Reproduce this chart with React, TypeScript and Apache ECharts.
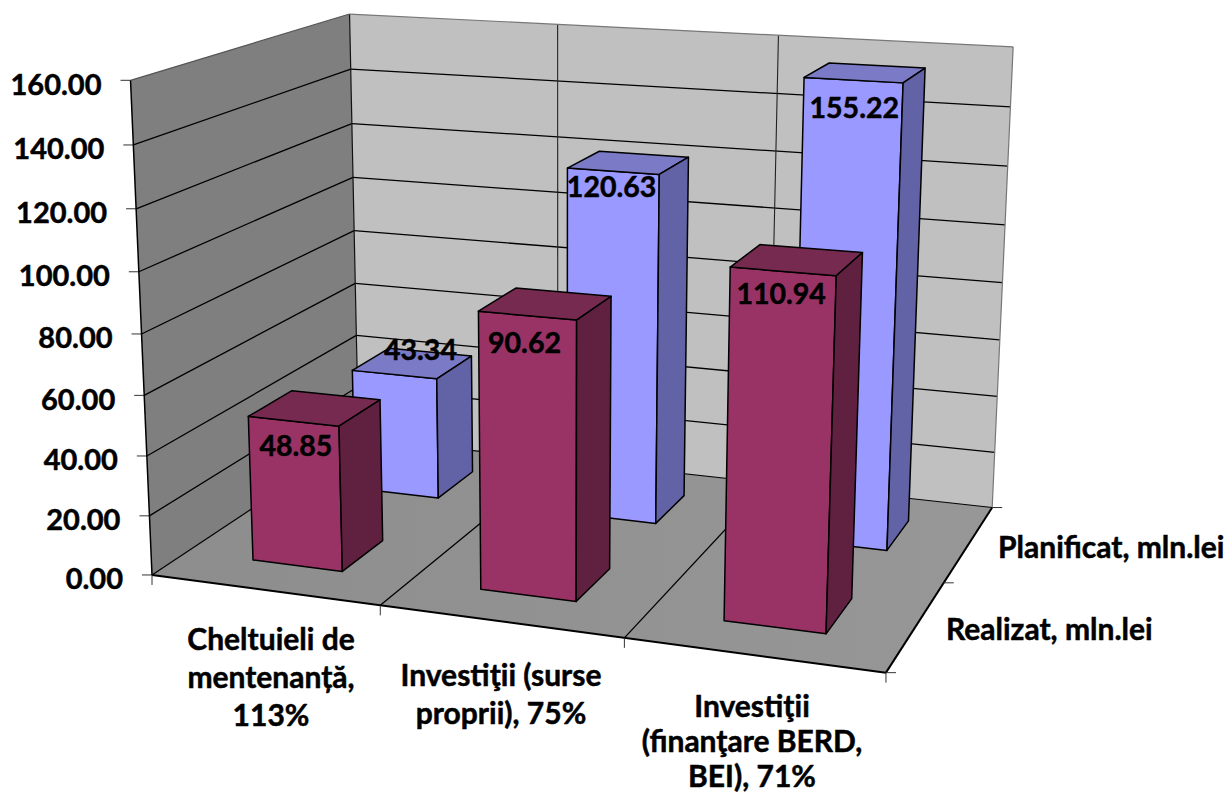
import React, { useEffect, useRef } from "react";
import * as echarts from "echarts";

const categories = ["Cheltuieli de\nmentenanță,\n113%", "Investiţii (surse\nproprii), 75%", "Investiţii\n(finanţare BERD,\nBEI), 71%"];
const depthNames = ["Realizat, mln.lei", "Planificat, mln.lei"];
const realizat = [48.85, 90.62, 110.94];
const planificat = [43.34, 120.63, 155.22];
const yTicks = [0, 20, 40, 60, 80, 100, 120, 140, 160];
const yTickLabels = ["0.00", "20.00", "40.00", "60.00", "80.00", "100.00", "120.00", "140.00", "160.00"];

const W = 1229, H = 793;
const FONT = "Lato, Carlito, 'Noto Sans', sans-serif";

// Camera calibration: model point [category, value/160, depth] -> page pixel, used to fit a projective camera
const calibration: number[][] = [
  [0, 0, 0, 152, 575], [0, 1, 0, 130, 80], [0, 0, 2, 358, 438], [0, 1, 2, 350, 14],
  [3, 1, 2, 1013, 47], [3, 0, 2, 992, 507], [3, 0, 0, 885, 673], [1, 0, 0, 381, 605],
  [2, 0, 0, 624, 638], [3, 0, 1, 945, 583], [0, 0.5, 0, 142, 334], [0, 0.5, 2, 354, 231],
];

function solve(A: number[][], b: number[]) {
  const n = b.length;
  const M = A.map((r, i) => [...r, b[i]]);
  for (let i = 0; i < n; i++) {
    let p = i;
    for (let k = i + 1; k < n; k++) if (Math.abs(M[k][i]) > Math.abs(M[p][i])) p = k;
    [M[i], M[p]] = [M[p], M[i]];
    for (let k = 0; k < n; k++) {
      if (k === i) continue;
      const f = M[k][i] / M[i][i];
      for (let j = i; j <= n; j++) M[k][j] -= f * M[i][j];
    }
  }
  return M.map((r, i) => r[n] / r[i]);
}

function fitCamera() {
  const rows: number[][] = [];
  const rhs: number[] = [];
  for (const [X, Y, Z, u, v] of calibration) {
    rows.push([X, Y, Z, 1, 0, 0, 0, 0, -u * X, -u * Y, -u * Z]);
    rhs.push(u);
    rows.push([0, 0, 0, 0, X, Y, Z, 1, -v * X, -v * Y, -v * Z]);
    rhs.push(v);
  }
  const n = 11;
  const AtA = Array.from({ length: n }, (_, i) =>
    Array.from({ length: n }, (_, j) => rows.reduce((s, r) => s + r[i] * r[j], 0)));
  const Atb = Array.from({ length: n }, (_, i) => rows.reduce((s, r, k) => s + r[i] * rhs[k], 0));
  return solve(AtA, Atb);
}
const cam = fitCamera();
function project(X: number, Y: number, Z: number): number[] {
  const w = cam[8] * X + cam[9] * Y + cam[10] * Z + 1;
  return [(cam[0] * X + cam[1] * Y + cam[2] * Z + cam[3]) / w, (cam[4] * X + cam[5] * Y + cam[6] * Z + cam[7]) / w];
}

const poly = (points: number[][], fill: any, stroke: string | null, lineWidth = 1.5) => ({
  type: "polygon", shape: { points }, style: { fill, stroke: stroke || "none", lineWidth, lineJoin: "round" },
});
const seg = (a: number[], b: number[], stroke = "#000", lineWidth = 1.3) => ({
  type: "line", shape: { x1: a[0], y1: a[1], x2: b[0], y2: b[1] }, style: { stroke, lineWidth },
});
const label = (text: string, x: number, y: number, size: number, align = "center", lineHeight?: number) => ({
  type: "text",
  style: {
    text, x, y, fill: "#000", stroke: "#000", lineWidth: 0.5,
    font: `bold ${size}px ${FONT}`, textAlign: align, textVerticalAlign: "middle", lineHeight,
  },
});

// value axis -> model height, through the (hidden) axis scale
const heightOf = (api: any, value: number) => (H - api.coord([0, value])[1]) / H;

function renderFrame(_: any, api: any) {
  const children: any[] = [];
  const c = (x: number, v: number, z: number) => project(x, heightOf(api, v), z);
  const top = yTicks[yTicks.length - 1];

  children.push(poly([c(0, 0, 0), c(0, top, 0), c(0, top, 2), c(0, 0, 2)], "#7f7f7f", null));
  children.push(poly([c(0, 0, 2), c(0, top, 2), c(3, top, 2), c(3, 0, 2)], "#c0c0c0", null));
  children.push(poly([c(0, 0, 0), c(0, 0, 2), c(3, 0, 2), c(3, 0, 0)], {
    type: "linear", x: 0, y: 0, x2: 1, y2: 0,
    colorStops: [{ offset: 0, color: "#8d8d8d" }, { offset: 1, color: "#979797" }],
  }, null));

  yTicks.forEach((t, i) => {
    if (i > 0 && i < yTicks.length - 1) {
      children.push(seg(c(0, t, 0), c(0, t, 2)));
      children.push(seg(c(0, t, 2), c(3, t, 2)));
    }
    const p = c(0, t, 0);
    children.push(seg([p[0] - 10, p[1]], p, "#333", 1));
    children.push(label(yTickLabels[i], p[0] - 29, p[1] + 3, 29, "right"));
  });

  [1, 2].forEach((x) => {
    children.push(seg(c(x, 0, 2), c(x, top, 2), "#222", 1.1));
    children.push(seg(c(x, 0, 0), c(x, 0, 2), "#000", 1.3));
  });
  children.push(seg(c(0, 0, 2), c(0, top, 2), "#111", 1.2));
  children.push(seg(c(0, top, 0), c(0, 0, 0), "#000", 1.5));
  children.push(seg(c(0, top, 0), c(0, top, 2), "#555", 1.2));
  children.push(seg(c(0, top, 2), c(3, top, 2), "#777", 1.2));
  children.push(seg(c(3, top, 2), c(3, 0, 2), "#777", 1.2));
  children.push(seg(c(0, 0, 0), c(0, 0, 2), "#000", 1.2));
  children.push(seg(c(0, 0, 2), c(3, 0, 2), "#000", 1.1));
  children.push(seg(c(0, 0, 0), c(3, 0, 0), "#000", 2));
  children.push(seg(c(3, 0, 0), c(3, 0, 2), "#000", 2));

  [0, 1, 2, 3].forEach((x) => {
    const p = c(x, 0, 0);
    children.push(seg(p, [p[0], p[1] + 10], "#333", 1));
  });
  [0, 1, 2].forEach((z) => {
    const p = c(3, 0, z);
    children.push(seg(p, [p[0] + 10, p[1]], "#333", 1));
  });

  const catPos = [[271, 676], [501, 693], [752, 740]];
  const catLine = [38, 38, 35];
  categories.forEach((name, i) => children.push(label(name, catPos[i][0], catPos[i][1], 30, "center", catLine[i])));
  const depthPos = [[946, 628], [998, 546]];
  depthNames.forEach((name, i) => children.push(label(name, depthPos[i][0], depthPos[i][1], 30, "left")));

  return { type: "group", children };
}

const BAR_HALF = 0.2;
const labelOffset: Record<number, number[][]> = {
  0: [[-19, 37], [-21, 38], [-16, 33]],
  1: [[8, -14], [-17, 23], [-11, 34]],
};

const renderBars = (row: number, colors: string[]) => (params: any, api: any) => {
  const idx = api.value(0);
  const val = api.value(1);
  const px = api.coord([idx, val]);
  const band = api.size([1, 0])[0];
  const cx = (px[0] / band);
  const h = (H - px[1]) / H;
  const zc = row + 0.5;
  const x0 = cx - BAR_HALF, x1 = cx + BAR_HALF, z0 = zc - BAR_HALF, z1 = zc + BAR_HALF;
  const A = project(x0, 0, z0), B = project(x1, 0, z0), C = project(x1, 0, z1);
  const D = project(x0, h, z0), E = project(x1, h, z0), F = project(x1, h, z1), G = project(x0, h, z1);
  const centre = project(cx, h, zc);
  const off = labelOffset[row][idx];
  return {
    type: "group",
    children: [
      poly([A, B, E, D], colors[0], "#000"),
      poly([D, E, F, G], colors[1], "#000"),
      poly([B, C, F, E], colors[2], "#000"),
      label(val.toFixed(2), centre[0] + off[0], centre[1] + off[1], 28.5),
    ],
  };
};

const toData = (arr: number[]) => arr.map((v, i) => [i, v]);

export default function App() {
  const ref = useRef<HTMLDivElement>(null);
  useEffect(() => {
    document.body.style.margin = "0";
    document.body.style.overflow = "hidden";
    const chart = echarts.init(ref.current!, undefined, { renderer: "svg" });
    chart.setOption({
      animation: false,
      backgroundColor: "#fff",
      grid: { left: 0, right: 0, top: 0, bottom: 0 },
      xAxis: { type: "category", data: categories, show: false },
      yAxis: { type: "value", min: 0, max: 160, interval: 20, show: false },
      series: [
        { type: "custom", silent: true, clip: false, data: [[0, 0]], renderItem: renderFrame },
        { type: "custom", name: "Planificat", silent: true, clip: false, data: toData(planificat), renderItem: renderBars(1, ["#9999ff", "#7a7ac6", "#6262a6"]) },
        { type: "custom", name: "Realizat", silent: true, clip: false, data: toData(realizat), renderItem: renderBars(0, ["#993366", "#772a50", "#602040"]) },
      ],
    });
    return () => chart.dispose();
  }, []);
  return <div ref={ref} style={{ width: W, height: H, position: "absolute", left: 0, top: 0 }} />;
}
